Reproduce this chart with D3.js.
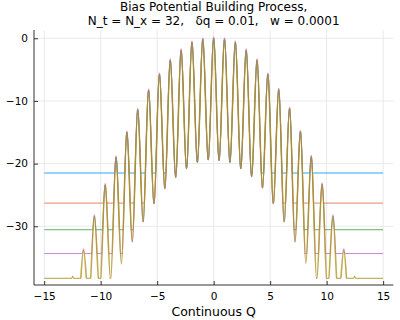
<!DOCTYPE html>
<html><head><meta charset="utf-8">
<script src="https://cdn.jsdelivr.net/npm/d3@7"></script>
<style>body{margin:0;background:#fff} text{white-space:pre}</style>
</head><body><svg id="c" width="400" height="320"></svg>
<script>
const titleLines = ["Bias Potential Building Process,", "N_t = N_x = 32,   δq = 0.01,   w = 0.0001"];
const xLabel = "Continuous Q";
const xTicks = [-15, -10, -5, 0, 5, 10, 15];
const yTicks = [0, -10, -20, -30];
const seriesColors = ["#009AFA", "#E36F47", "#3EA44E", "#C271D2", "#AC8D18"];
// flat level of each series (where the bias has not yet risen above it)
const floorLevels = [-21.5, -26.3, -30.55, -34.35, -38.3];
// shared oscillation: alternating troughs and peaks
const oscQ = [-15, -12.96, -12.48, -12.0, -11.52, -11.04, -10.56, -10.08, -9.6, -9.12, -8.64, -8.16, -7.68, -7.2, -6.72, -6.24, -5.76, -5.28, -4.8, -4.32, -3.84, -3.36, -2.88, -2.4, -1.92, -1.44, -0.96, -0.48, 0,
              0.48, 0.96, 1.44, 1.92, 2.4, 2.88, 3.36, 3.84, 4.32, 4.8, 5.28, 5.76, 6.24, 6.72, 7.2, 7.68, 8.16, 8.64, 9.12, 9.6, 10.08, 10.56, 11.04, 11.52, 12.0, 12.48, 12.96, 15];
const oscV = [-45, -44, -38.0, -43, -33.8, -42, -28.4, -40.5, -23.4, -38.6, -19.0, -36.0, -15.0, -32.5, -11.4, -29.3, -8.3, -26.4, -5.75, -24.0, -3.5, -22.2, -1.9, -20.8, -0.65, -19.8, -0.15, -19.4, 0.0,
              -19.5, -0.15, -19.8, -0.65, -20.8, -1.9, -22.1, -3.5, -23.9, -5.75, -26.4, -8.2, -29.3, -11.2, -32.5, -14.9, -35.9, -18.9, -38.6, -23.3, -40.5, -28.4, -42, -33.8, -43, -38.0, -44, -45];
// the purple stage peaks sit a little higher than the others
const peakLift = [0, 0, 0, 0.25, 0];

const svg = d3.select("#c");
const L = 34, R = 393.3, T = 30, B = 285;
const x = d3.scaleLinear().domain([-15.9, 15.9]).range([L, R]);
const y = d3.scaleLinear().domain([-39.37, 1.32]).range([B, T]);
const font = "DejaVu Sans, sans-serif";

// grid
svg.append("g").selectAll("line").data(xTicks).join("line")
  .attr("x1", d => x(d)).attr("x2", d => x(d)).attr("y1", T).attr("y2", B)
  .attr("stroke", "#e9e9e9").attr("stroke-width", 1);
svg.append("g").selectAll("line").data(yTicks).join("line")
  .attr("x1", L).attr("x2", R).attr("y1", d => y(d)).attr("y2", d => y(d))
  .attr("stroke", "#e9e9e9").attr("stroke-width", 1);

const defs = svg.append("defs");
const line = d3.line().x(d => x(d[0])).y(d => y(d[1])).curve(d3.curveMonotoneX);
const areaAbove = d3.area().x(d => x(d[0])).y0(0).y1(d => y(d[1])).curve(d3.curveMonotoneX);
function isPeak(k) { return k > 0 && k < oscV.length - 1 && oscV[k] > oscV[k - 1] && oscV[k] > oscV[k + 1]; }

floorLevels.forEach((f, i) => {
  const pts = oscQ.map((q, k) => [q, oscV[k] + (isPeak(k) ? peakLift[i] : 0)]);
  const fy = y(f);
  const last = i === floorLevels.length - 1;
  defs.append("clipPath").attr("id", "up" + i)
    .append("rect").attr("x", 0).attr("y", 0).attr("width", 400).attr("height", fy);
  defs.append("clipPath").attr("id", "fl" + i)
    .append("path").attr("d", areaAbove(pts));
  const g = svg.append("g");
  g.append("path").attr("d", line(pts)).attr("clip-path", `url(#up${i})`)
    .attr("fill", "none").attr("stroke", seriesColors[i])
    .attr("stroke-width", last ? 1.6 : 1).attr("stroke-opacity", last ? 0.75 : 0.55);
  g.append("line").attr("x1", x(-15)).attr("x2", x(15)).attr("y1", fy).attr("y2", fy)
    .attr("clip-path", `url(#fl${i})`)
    .attr("stroke", seriesColors[i]).attr("stroke-width", 1).attr("stroke-opacity", 0.85);
});

// axes
const fmt = d => d3.format("")(d).replace("-", "\u2212");
const ax = svg.append("g").attr("transform", `translate(0,${B})`)
  .call(d3.axisBottom(x).tickValues(xTicks).tickSizeInner(-4).tickSizeOuter(0).tickPadding(8).tickFormat(fmt));
const ay = svg.append("g").attr("transform", `translate(${L},0)`)
  .call(d3.axisLeft(y).tickValues(yTicks).tickSizeInner(-4).tickSizeOuter(0).tickPadding(6).tickFormat(fmt));
[ax, ay].forEach(a => {
  a.select(".domain").attr("stroke", "#333");
  a.selectAll(".tick line").attr("stroke", "#333");
  a.selectAll("text").attr("font-family", font).attr("font-size", 10.5).attr("fill", "#000");
});
ax.select(".domain").attr("d", `M${L},0H${R}`);
ay.select(".domain").attr("d", `M0,${T}V${B}`);

svg.append("text").attr("x", (L + R) / 2).attr("y", 315.5).attr("text-anchor", "middle")
  .attr("font-family", font).attr("font-size", 12.5).text(xLabel);
svg.selectAll(".title").data(titleLines).join("text").attr("class", "title")
  .attr("x", (L + R) / 2).attr("y", (d, i) => 11.3 + i * 13.7).attr("text-anchor", "middle")
  .attr("font-family", font).attr("font-size", 12).text(d => d);
</script></body></html>
